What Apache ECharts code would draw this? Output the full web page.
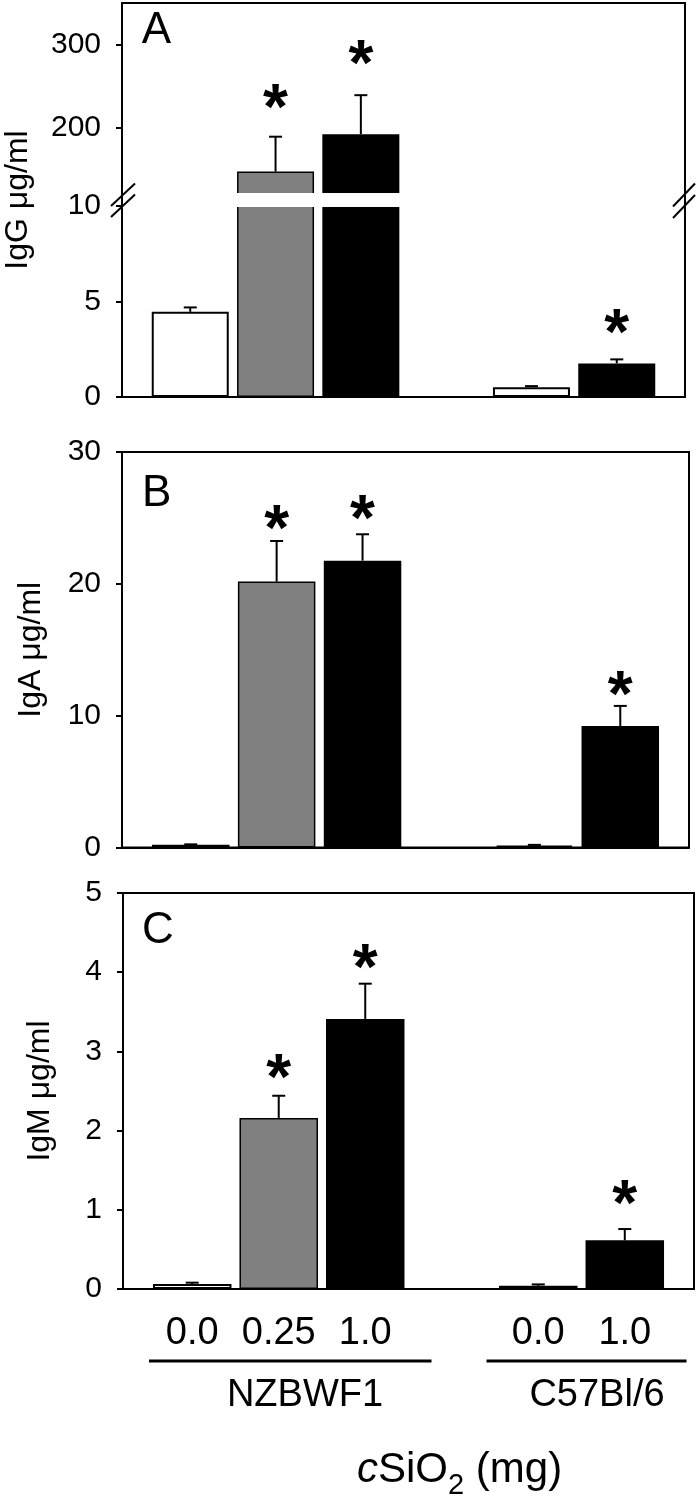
<!DOCTYPE html>
<html><head><meta charset="utf-8">
<script src="https://cdn.jsdelivr.net/npm/echarts@6/dist/echarts.min.js"></script>
<style>html,body{margin:0;padding:0;background:#fff}#c{width:700px;height:1500px}</style>
</head><body><div id="c"></div>
<script>
// ---- data ----
const slots = [0, 1, 2, 4, 5];
const doseLabels = ['0.0', '0.25', '1.0', '0.0', '1.0'];
const strains = ['NZBWF1', 'C57Bl/6'];
const barFills = ['#ffffff', '#808080', '#000000', '#ffffff', '#000000'];
const igG = [4.46, 147, 192, 0.51, 1.76];
const igGErr = [4.69, 189, 239, 0.57, 1.97];
const igGStar = [null, 238, 291, null, 4.0];
const igA = [0.2, 20.17, 21.76, 0.15, 9.22];
const igAErr = [0.24, 23.25, 23.76, 0.2, 10.74];
const igAStar = [null, 25.1, 25.8, null, 12.5];
const igM = [0.063, 2.16, 3.41, 0.04, 0.614];
const igMErr = [0.08, 2.44, 3.855, 0.058, 0.757];
const igMStar = [null, 2.82, 4.2, null, 1.22];
const ticksAHigh = [200, 300];
const ticksALow = [0, 5, 10];
const ticksB = [0, 10, 20, 30];
const ticksC = [0, 1, 2, 3, 4, 5];
const yNames = ['IgG μg/ml', 'IgA μg/ml', 'IgM μg/ml'];
const panelLetters = ['A', 'B', 'C'];

// ---- layout ----
const FONT = '"Liberation Sans", Arial, sans-serif';
const grids = [
  {left: 122, top: 3, width: 563, height: 191},
  {left: 122, top: 206, width: 563, height: 191},
  {left: 122, top: 452, width: 567, height: 395.5},
  {left: 123, top: 893, width: 571, height: 396}
];
const ranges = [[120, 350], [0, 10], [0, 30], [0, 5]];
const tickSets = [ticksAHigh, ticksALow, ticksB, ticksC];
const barW = [77, 77, 77.5, 78.5];
const STAR = 64;

const chart = echarts.init(document.getElementById('c'));

function xAxisFor(i) {
  const last = i === 3;
  return {
    gridIndex: i, type: 'value', min: -0.8, max: 5.8,
    axisLine: {show: i !== 0, onZero: false, lineStyle: {color: '#000', width: 2}},
    axisTick: {show: false}, splitLine: {show: false},
    axisLabel: last ? {
      show: true, customValues: slots, margin: 26,
      formatter: v => doseLabels[slots.indexOf(v)],
      fontSize: 38, color: '#000', fontFamily: FONT
    } : {show: false}
  };
}
function yAxisFor(i) {
  return {
    gridIndex: i, type: 'value', min: ranges[i][0], max: ranges[i][1],
    axisLine: {show: true, onZero: false, lineStyle: {color: '#000', width: 2}},
    axisTick: {show: true, inside: false, length: 6, customValues: tickSets[i], lineStyle: {color: '#000', width: 2}},
    axisLabel: {show: true, customValues: tickSets[i], margin: 21, fontSize: 30, color: '#000', fontFamily: FONT},
    splitLine: {show: false}
  };
}
function inRange(v, i) { return v != null && v >= ranges[i][0] - 1e-9 && v <= ranges[i][1]; }

function barSeries(i, vals) {
  return {
    type: 'bar', xAxisIndex: i, yAxisIndex: i, barWidth: barW[i], clip: true, animation: false,
    data: vals.map((v, k) => ({
      value: [slots[k], v],
      itemStyle: {
        color: barFills[k], borderColor: '#000',
        borderWidth: barFills[k] === '#000000' ? 0 : (barFills[k] === '#ffffff' ? 2 : 1.5)
      }
    }))
  };
}
function errSeries(i, vals, errs) {
  return {
    type: 'custom', xAxisIndex: i, yAxisIndex: i, animation: false, z: 3,
    data: vals.map((v, k) => [slots[k], v, errs[k]]).filter(d => inRange(d[1], i)),
    renderItem: (params, api) => {
      const p0 = api.coord([api.value(0), api.value(1)]);
      const p1 = api.coord([api.value(0), api.value(2)]);
      const hw = 6.5;
      return {type: 'group', children: [
        {type: 'line', shape: {x1: p0[0], y1: p0[1], x2: p1[0], y2: p1[1]}, style: {stroke: '#000', lineWidth: 2}},
        {type: 'line', shape: {x1: p1[0] - hw, y1: p1[1], x2: p1[0] + hw, y2: p1[1]}, style: {stroke: '#000', lineWidth: 2}}
      ]};
    }
  };
}
function starSeries(i, stars) {
  return {
    type: 'custom', xAxisIndex: i, yAxisIndex: i, animation: false, z: 4,
    data: stars.map((s, k) => [slots[k], s]).filter(d => inRange(d[1], i)),
    renderItem: (params, api) => {
      const p = api.coord([api.value(0), api.value(1)]);
      return {type: 'text', x: p[0], y: p[1] + STAR * 0.24, style: {
        text: '*', font: 'bold ' + STAR + 'px ' + FONT, fill: '#000', align: 'center', verticalAlign: 'middle'
      }};
    }
  };
}

const panelVals = [[igG, igGErr, igGStar], [igG, igGErr, igGStar], [igA, igAErr, igAStar], [igM, igMErr, igMStar]];
const series = [];
panelVals.forEach((pv, i) => {
  series.push(barSeries(i, pv[0]));
  series.push(errSeries(i, pv[0], pv[1]));
  series.push(starSeries(i, pv[2]));
});

// ---- decorations ----
const gA = grids[0], gAl = grids[1], gB = grids[2], gC = grids[3];
const gapTop = gA.top + gA.height - 1, gapBot = gAl.top + 1;
const xL = gA.left, xR = gA.left + gA.width;
const lineStyle = {stroke: '#000', lineWidth: 2};
const nameFont = '32px ' + FONT;
const graphic = [
  {type: 'rect', z: 100, shape: {x: xL + 1, y: gapTop, width: xR - xL - 2, height: gapBot - gapTop}, style: {fill: '#fff'}},
  {type: 'line', z: 101, shape: {x1: xL, y1: gapTop - 1, x2: xL, y2: gapBot + 1}, style: lineStyle},
  {type: 'line', z: 101, shape: {x1: xR, y1: gapTop - 1, x2: xR, y2: gapBot + 1}, style: lineStyle},
  // break marks
  {type: 'line', z: 102, shape: {x1: xL - 11, y1: 206, x2: xL + 13, y2: 183.5}, style: lineStyle},
  {type: 'line', z: 102, shape: {x1: xL - 11, y1: 217, x2: xL + 13, y2: 194.5}, style: lineStyle},
  {type: 'line', z: 102, shape: {x1: xR - 12, y1: 206.5, x2: xR + 10, y2: 183.5}, style: lineStyle},
  {type: 'line', z: 102, shape: {x1: xR - 12, y1: 218, x2: xR + 10, y2: 195}, style: lineStyle},
  // y names
  {type: 'text', z: 102, x: 18.5, y: (gA.top + gAl.top + gAl.height) / 2, rotation: Math.PI / 2,
    style: {text: yNames[0], font: nameFont, fill: '#000', align: 'center', verticalAlign: 'middle'}},
  {type: 'text', z: 102, x: 31.5, y: gB.top + gB.height / 2, rotation: Math.PI / 2,
    style: {text: yNames[1], font: nameFont, fill: '#000', align: 'center', verticalAlign: 'middle'}},
  {type: 'text', z: 102, x: 40, y: gC.top + gC.height / 2, rotation: Math.PI / 2,
    style: {text: yNames[2], font: nameFont, fill: '#000', align: 'center', verticalAlign: 'middle'}},
  // panel letters
  {type: 'text', z: 102, x: 156.5, y: 31, style: {text: panelLetters[0], font: '44px ' + FONT, fill: '#000', align: 'center', verticalAlign: 'middle'}},
  {type: 'text', z: 102, x: 156.7, y: 493.5, style: {text: panelLetters[1], font: '44px ' + FONT, fill: '#000', align: 'center', verticalAlign: 'middle'}},
  {type: 'text', z: 102, x: 158, y: 931, style: {text: panelLetters[2], font: '44px ' + FONT, fill: '#000', align: 'center', verticalAlign: 'middle'}},
  // group underlines
  {type: 'line', z: 102, shape: {x1: 149, y1: 1361, x2: 431.5, y2: 1361}, style: {stroke: '#000', lineWidth: 3}},
  {type: 'line', z: 102, shape: {x1: 486.5, y1: 1361, x2: 686.5, y2: 1361}, style: {stroke: '#000', lineWidth: 3}},
  // strain labels
  {type: 'text', z: 102, x: 305, y: 1396, style: {text: strains[0], font: '38px ' + FONT, fill: '#000', align: 'center', verticalAlign: 'middle'}},
  {type: 'text', z: 102, x: 597, y: 1396, style: {text: strains[1], font: '38px ' + FONT, fill: '#000', align: 'center', verticalAlign: 'middle'}},
  // x title
  {type: 'text', z: 102, x: 357, y: 1470, style: {
    text: '{i|c}{n|SiO}{s|2}{n| (mg)}', align: 'left', verticalAlign: 'middle', fill: '#000',
    rich: {
      i: {font: 'italic 42px ' + FONT, lineHeight: 44, fill: '#000'},
      n: {font: '42px ' + FONT, lineHeight: 44, fill: '#000'},
      s: {font: '29px ' + FONT, lineHeight: 44, padding: [32, 0, 0, 0], fill: '#000'}
    }
  }}
];

chart.setOption({
  animation: false,
  backgroundColor: '#fff',
  grid: grids.map(g => Object.assign({show: true, borderColor: '#000', borderWidth: 2, backgroundColor: 'transparent'}, g)),
  xAxis: grids.map((g, i) => xAxisFor(i)),
  yAxis: grids.map((g, i) => yAxisFor(i)),
  series: series,
  graphic: graphic
});
</script>
</body></html>
